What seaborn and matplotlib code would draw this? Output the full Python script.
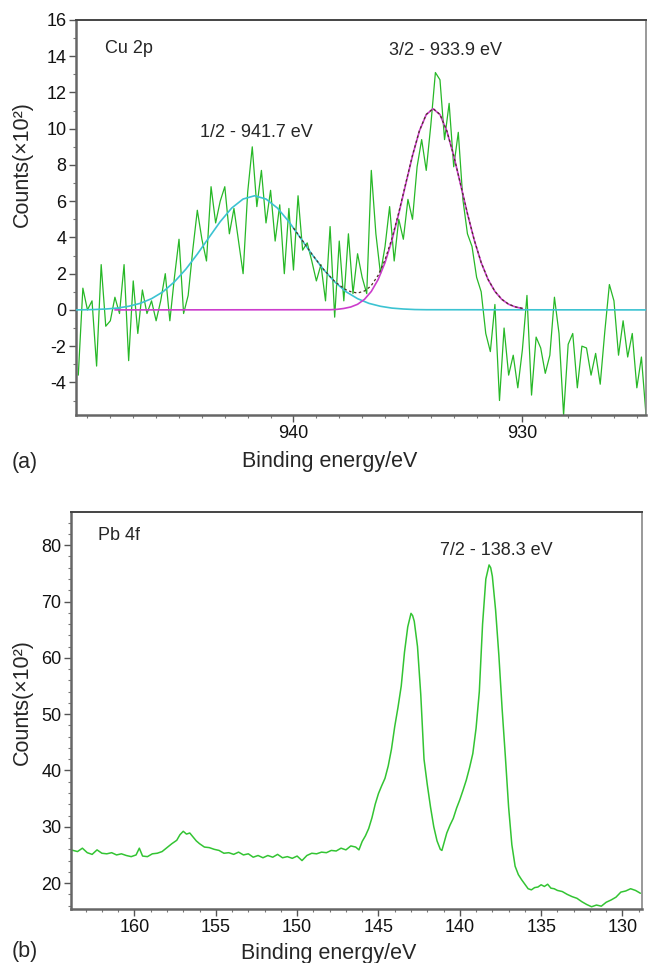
import numpy as np
import pandas as pd
import matplotlib
matplotlib.use("Agg")
import matplotlib.pyplot as plt
import seaborn as sns
from matplotlib.ticker import MultipleLocator, FixedLocator

sns.set_style("ticks")
plt.rcParams['font.family'] = ['Liberation Sans', 'DejaVu Sans']
plt.rcParams['axes.unicode_minus'] = False

# ---------------- (a) Cu 2p ----------------
cu_energy = np.round(np.linspace(949.4, 924.6, 125), 2)
cu_counts = [
    -3.6, 1.2, 0.0, 0.5, -3.1, 2.5, -0.9, -0.6, 0.7, -0.2,
    2.5, -2.8, 1.6, -1.3, 1.1, -0.2, 0.5, -0.6, 0.5, 2.0,
    -0.6, 1.8, 3.9, -0.2, 0.8, 3.3, 5.5, 3.9, 2.7, 6.8,
    4.8, 6.0, 6.8, 4.2, 5.6, 3.8, 2.0, 6.5, 9.0, 5.7,
    7.7, 4.8, 6.6, 3.8, 5.8, 2.0, 5.6, 2.2, 6.3, 3.3,
    3.7, 2.7, 1.6, 2.5, 0.5, 4.6, -0.4, 3.8, 0.5, 4.2,
    0.9, 3.1,
    1.8, 0.9, 7.7, 4.2, 2.0, 3.5, 5.7, 2.7, 5.0, 3.9,
    6.1, 5.0, 7.9, 9.4, 7.7, 10.2, 13.1, 12.7, 9.4, 11.4,
    7.9, 9.8, 6.1, 4.2, 3.5, 1.8, 1.0, -1.3, -2.3, 0.3,
    -5.0,
    -1.0, -3.6, -2.5, -4.3, -2.2, 0.8, -4.7, -1.5, -2.1, -3.5,
    -2.5, 0.7, -1.3, -5.8, -1.9, -1.3, -4.3, -2.0, -2.1, -3.6,
    -2.4, -4.1, -1.2, 1.4, 0.5, -2.5, -0.6, -2.6, -1.3, -4.3,
    -2.6, -5.8,
]

# fitted component 2p1/2 (cyan)
fit_half_energy = [949.5, 948.7, 948.2, 947.7, 947.2, 946.7, 946.2, 945.7, 945.2, 944.7,
                   944.2, 943.7, 943.2, 942.7, 942.2, 941.7, 941.2, 940.7, 940.2, 939.7,
                   939.2, 938.7, 938.2, 937.7, 937.2, 936.7, 936.2, 935.7, 935.2, 934.7,
                   934.2, 924.6]
fit_half_counts = [0, 0.02, 0.05, 0.10, 0.20, 0.36, 0.62, 1.00, 1.55, 2.25,
                   3.08, 3.98, 4.87, 5.62, 6.12, 6.30, 6.12, 5.62, 4.87, 3.98,
                   3.08, 2.25, 1.55, 1.00, 0.62, 0.36, 0.20, 0.10, 0.05, 0.02,
                   0.01, 0]

# fitted component 2p3/2 (magenta)
fit_3half_energy = [947.8, 938.4, 938.1, 937.8, 937.5, 937.2, 936.9, 936.6, 936.3, 936.0,
                    935.7, 935.4, 935.1, 934.8, 934.5, 934.2, 933.9, 933.6, 933.3, 933.0,
                    932.7, 932.4, 932.1, 931.8, 931.5, 931.2, 930.9, 930.6, 930.3, 930.0]
fit_3half_counts = [0, 0.01, 0.03, 0.08, 0.16, 0.31, 0.58, 1.02, 1.68, 2.61,
                    3.84, 5.31, 6.92, 8.51, 9.87, 10.78, 11.1, 10.78, 9.87, 8.51,
                    6.92, 5.31, 3.84, 2.61, 1.68, 1.02, 0.58, 0.31, 0.16, 0.08]

# ---------------- (b) Pb 4f ----------------
pb_energy = [163.9, 163.5, 163.2, 162.9, 162.6, 162.3, 162.0, 161.7, 161.4, 161.1,
             160.8, 160.5, 160.2, 159.9, 159.7, 159.5, 159.2, 158.9, 158.6, 158.3,
             158.0, 157.7, 157.4, 157.2, 157.0, 156.8, 156.6, 156.4, 156.2, 156.0,
             155.7, 155.4, 155.1, 154.8, 154.5, 154.2, 153.9, 153.6, 153.3, 153.0,
             152.7, 152.4, 152.1, 151.8, 151.5, 151.2, 150.9, 150.6, 150.3, 150.0,
             149.7, 149.4, 149.1, 148.8, 148.5, 148.2, 147.9, 147.6, 147.3, 147.0,
             146.7, 146.4, 146.2, 146.0, 145.8, 145.6, 145.4, 145.2, 145.0, 144.8,
             144.6, 144.4, 144.2, 144.0, 143.8, 143.6, 143.4, 143.2, 143.0, 142.9,
             142.8, 142.6, 142.4, 142.2, 142.0, 141.8, 141.6, 141.4, 141.2, 141.1,
             141.0, 140.8, 140.6, 140.4, 140.2, 140.0, 139.8, 139.6, 139.4, 139.2,
             139.0, 138.8, 138.6, 138.4, 138.2, 138.1, 138.0, 137.8, 137.6, 137.4,
             137.2, 137.0, 136.8, 136.6, 136.4, 136.2, 136.0, 135.8, 135.6, 135.4,
             135.2, 135.0, 134.8, 134.6, 134.4, 134.2, 134.0, 133.7, 133.4, 133.1,
             132.8, 132.5, 132.2, 131.9, 131.6, 131.3, 131.0, 130.7, 130.4, 130.1,
             129.8, 129.5, 129.2, 128.9]
pb_counts = [25.9, 25.6, 26.2, 25.4, 25.1, 25.9, 25.3, 25.2, 25.4, 25.0,
             25.2, 24.9, 24.7, 25.0, 26.2, 24.8, 24.7, 25.2, 25.3, 25.6,
             26.3, 27.0, 27.6, 28.6, 29.2, 28.7, 28.9, 28.2, 27.5, 27.0,
             26.4, 26.3, 26.0, 25.8, 25.3, 25.4, 25.1, 25.5, 25.0, 25.2,
             24.6, 24.9, 24.5, 24.9, 24.6, 25.1, 24.5, 24.7, 24.4, 24.8,
             24.0, 24.9, 25.3, 25.2, 25.5, 25.4, 25.8, 25.7, 26.2, 25.9,
             26.6, 26.4, 25.9, 27.4, 28.4, 29.7, 31.6, 34.0, 35.9, 37.3,
             38.6, 40.8, 43.8, 47.8, 51.2, 55.0, 61.0, 65.5, 67.9, 67.5,
             66.5, 62.0, 53.5, 42.0, 37.5, 33.5, 30.0, 27.5, 26.0, 25.8,
             26.8, 28.9, 30.3, 31.5, 33.3, 34.8, 36.5, 38.3, 40.5, 43.0,
             47.5, 54.0, 66.0, 74.0, 76.5, 76.0, 74.5, 68.5, 60.5, 51.0,
             42.5, 33.5, 26.8, 23.0, 21.5, 20.6, 19.8, 19.0, 18.8, 19.2,
             19.3, 19.7, 19.4, 19.8, 19.1, 19.0, 18.7, 18.5, 18.0, 17.6,
             17.3, 16.7, 16.2, 15.8, 16.1, 15.9, 16.6, 17.0, 17.5, 18.4,
             18.6, 19.0, 18.7, 18.2]

cu_df = pd.DataFrame({"energy": cu_energy, "counts": cu_counts})
half_df = pd.DataFrame({"energy": fit_half_energy, "counts": fit_half_counts})
thalf_df = pd.DataFrame({"energy": fit_3half_energy, "counts": fit_3half_counts})
pb_df = pd.DataFrame({"energy": pb_energy, "counts": pb_counts})

# envelope (sum of the two fitted components)
env_grid = np.arange(930.0, 940.01, 0.1)
h_e = np.array(fit_half_energy)[::-1]; h_c = np.array(fit_half_counts)[::-1]
t_e = np.array(fit_3half_energy)[::-1]; t_c = np.array(fit_3half_counts)[::-1]
env_df = pd.DataFrame({"energy": env_grid,
                       "counts": np.interp(env_grid, h_e, h_c) + np.interp(env_grid, t_e, t_c)})

fig = plt.figure(figsize=(6.48, 9.63), dpi=100)
W, H = 648, 963
ax1 = fig.add_axes([76 / W, 1 - 415 / H, (646 - 76) / W, (415 - 20) / H])
ax2 = fig.add_axes([71 / W, 1 - 909 / H, (642 - 71) / W, (909 - 512) / H])

green = "#27b827"
sns.lineplot(data=cu_df, x="energy", y="counts", ax=ax1, color=green, lw=0.9, zorder=2)
sns.lineplot(data=half_df, x="energy", y="counts", ax=ax1, color="#3cc3d2", lw=1.2, zorder=3)
sns.lineplot(data=thalf_df, x="energy", y="counts", ax=ax1, color="#cc3ccc", lw=1.2, zorder=4)
sns.lineplot(data=env_df, x="energy", y="counts", ax=ax1, color="#4a3520", lw=0.9,
             linestyle=(0, (2, 2)), zorder=5)

sns.lineplot(data=pb_df, x="energy", y="counts", ax=ax2, color="#33c433", lw=1.1)

ax1.set_xlim(949.5, 924.6)
ax1.set_ylim(-5.8, 16)
ax2.set_xlim(163.9, 128.8)
ax2.set_ylim(15.4, 85.9)

ax1.xaxis.set_major_locator(FixedLocator([940, 930]))
ax1.xaxis.set_minor_locator(MultipleLocator(1))
ax1.yaxis.set_major_locator(MultipleLocator(2))
ax1.yaxis.set_minor_locator(MultipleLocator(1))
ax2.xaxis.set_major_locator(MultipleLocator(5))
ax2.xaxis.set_minor_locator(MultipleLocator(1))
ax2.yaxis.set_major_locator(MultipleLocator(10))
ax2.yaxis.set_minor_locator(MultipleLocator(2))

for ax in (ax1, ax2):
    ax.set_xlabel("")
    ax.set_ylabel("")
    ax.tick_params(which="major", direction="out", length=5, width=1.0,
                   color="#555555", labelsize=13, pad=2, labelcolor="#111111")
    ax.tick_params(which="minor", direction="out", length=2.5, width=0.8, color="#777777")
    ax.spines["left"].set_color("#666666")
    ax.spines["left"].set_linewidth(1.8)
    ax.spines["bottom"].set_color("#666666")
    ax.spines["bottom"].set_linewidth(1.8)
    ax.spines["top"].set_color("#444444")
    ax.spines["top"].set_linewidth(1.4)
    ax.spines["right"].set_color("#888888")
    ax.spines["right"].set_linewidth(1.2)
    ax.spines["top"].set_visible(True)
    ax.spines["right"].set_visible(True)

ax1.text(0.051, 0.927, "Cu 2p", transform=ax1.transAxes, fontsize=13, va="center", ha="left")
ax1.text(0.316, 0.714, "1/2 - 941.7 eV", transform=ax1.transAxes, fontsize=13, va="center", ha="center")
ax1.text(0.649, 0.922, "3/2 - 933.9 eV", transform=ax1.transAxes, fontsize=13, va="center", ha="center")
ax2.text(0.047, 0.94, "Pb 4f", transform=ax2.transAxes, fontsize=13, va="center", ha="left")
ax2.text(0.744, 0.904, "7/2 - 138.3 eV", transform=ax2.transAxes, fontsize=13, va="center", ha="center")

fig.text(12 / W, 1 - 462 / H, "(a)", fontsize=15.5, ha="left", va="center")
fig.text(330 / W, 1 - 461 / H, "Binding energy/eV", fontsize=15.5, ha="center", va="center")
fig.text(22 / W, 1 - 164 / H, "Counts(×10²)", fontsize=15.5, ha="center", va="center", rotation=90)

fig.text(12 / W, 1 - 951 / H, "(b)", fontsize=15.5, ha="left", va="center")
fig.text(329 / W, 1 - 953 / H, "Binding energy/eV", fontsize=15.5, ha="center", va="center")
fig.text(22 / W, 1 - 702 / H, "Counts(×10²)", fontsize=15.5, ha="center", va="center", rotation=90)

fig.savefig("out.png", dpi=100)
